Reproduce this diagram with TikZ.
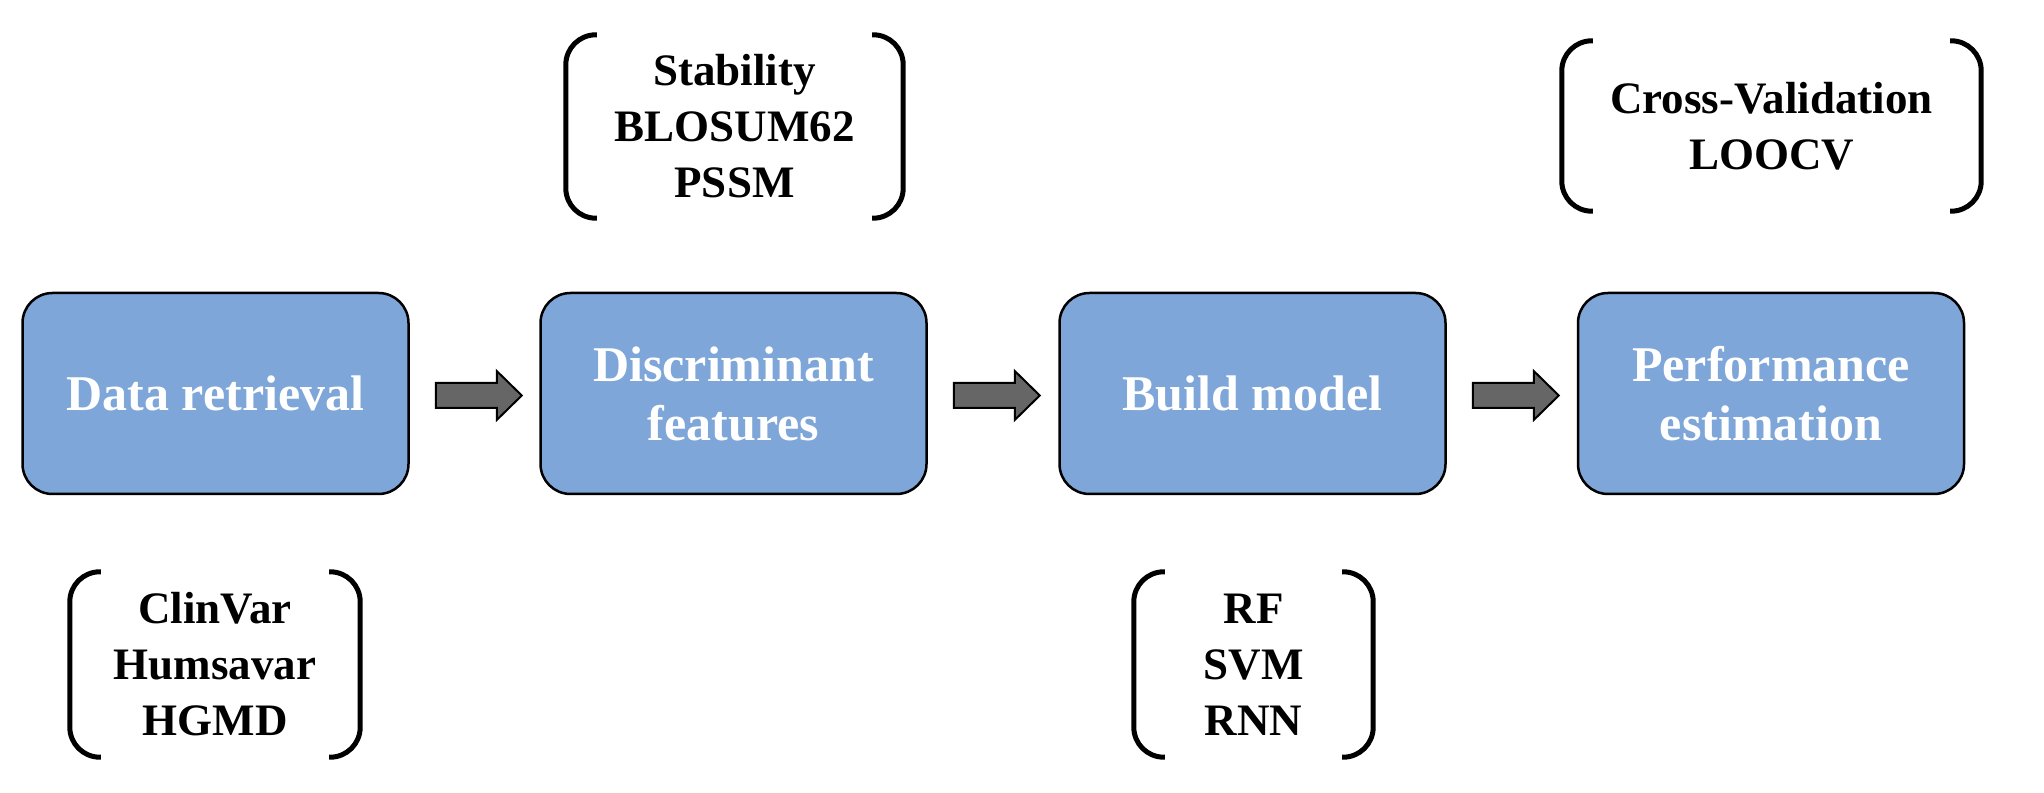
\documentclass[tikz,border=0pt]{standalone}
\usepackage{fontspec}
\setmainfont{Liberation Serif}
\definecolor{boxblue}{RGB}{126,166,216}
\definecolor{arrowgray}{RGB}{102,102,102}
\begin{document}
\begin{tikzpicture}[x=1pt,y=1pt,
  stage/.style={draw=black, line width=2.5pt, fill=boxblue, rounded corners=30pt,
    minimum width=386pt, minimum height=201pt, inner sep=0pt, align=center,
    text=white, font=\fontsize{50}{59}\selectfont\bfseries},
  listbox/.style={inner sep=0pt, align=center, text=black,
    font=\fontsize{45}{56}\selectfont\bfseries},
  paren/.style={draw=black, line width=5pt, rounded corners=30pt},
  blockarrow/.style={draw=black, line width=2pt, fill=arrowgray, line join=miter}]
\useasboundingbox (0,0) rectangle (2044,792);

% stages
\node[stage] (s1) at (215.5,398.5) {Data retrieval};
\node[stage] (s2) at (733.5,398.5) {Discriminant\\features};
\node[stage] (s3) at (1252.5,398.5) {Build model};
\node[stage] (s4) at (1771,398.5) {Performance\\estimation};

% block arrows between stages
\foreach \a/\b in {s1/s2,s2/s3,s3/s4}{
  \draw[blockarrow] ([xshift=26pt,yshift=10.5pt]\a.east) -- ++(61,0) -- ++(0,12)
    -- ++(25,-24.5) -- ++(-25,-24.5) -- ++(0,12) -- ++(-61,0) -- cycle;
}

% bracketed lists
\node[listbox, minimum width=337pt, minimum height=183pt] (l2) at (734.5,665.5) {Stability\\BLOSUM62\\PSSM};
\node[listbox, minimum width=419pt, minimum height=170pt] (l4) at (1771.5,666) {Cross-Validation\\LOOCV};
\node[listbox, minimum width=290pt, minimum height=185pt] (l1) at (215,127.5) {ClinVar\\Humsavar\\HGMD};
\node[listbox, minimum width=239pt, minimum height=185pt] (l3) at (1253.5,127.5) {RF\\SVM\\RNN};

\foreach \n in {l1,l2,l3,l4}{
  \draw[paren] ([xshift=31pt]\n.north west) -- (\n.north west) -- (\n.south west) -- ([xshift=31pt]\n.south west);
  \draw[paren] ([xshift=-31pt]\n.north east) -- (\n.north east) -- (\n.south east) -- ([xshift=-31pt]\n.south east);
}
\end{tikzpicture}
\end{document}
